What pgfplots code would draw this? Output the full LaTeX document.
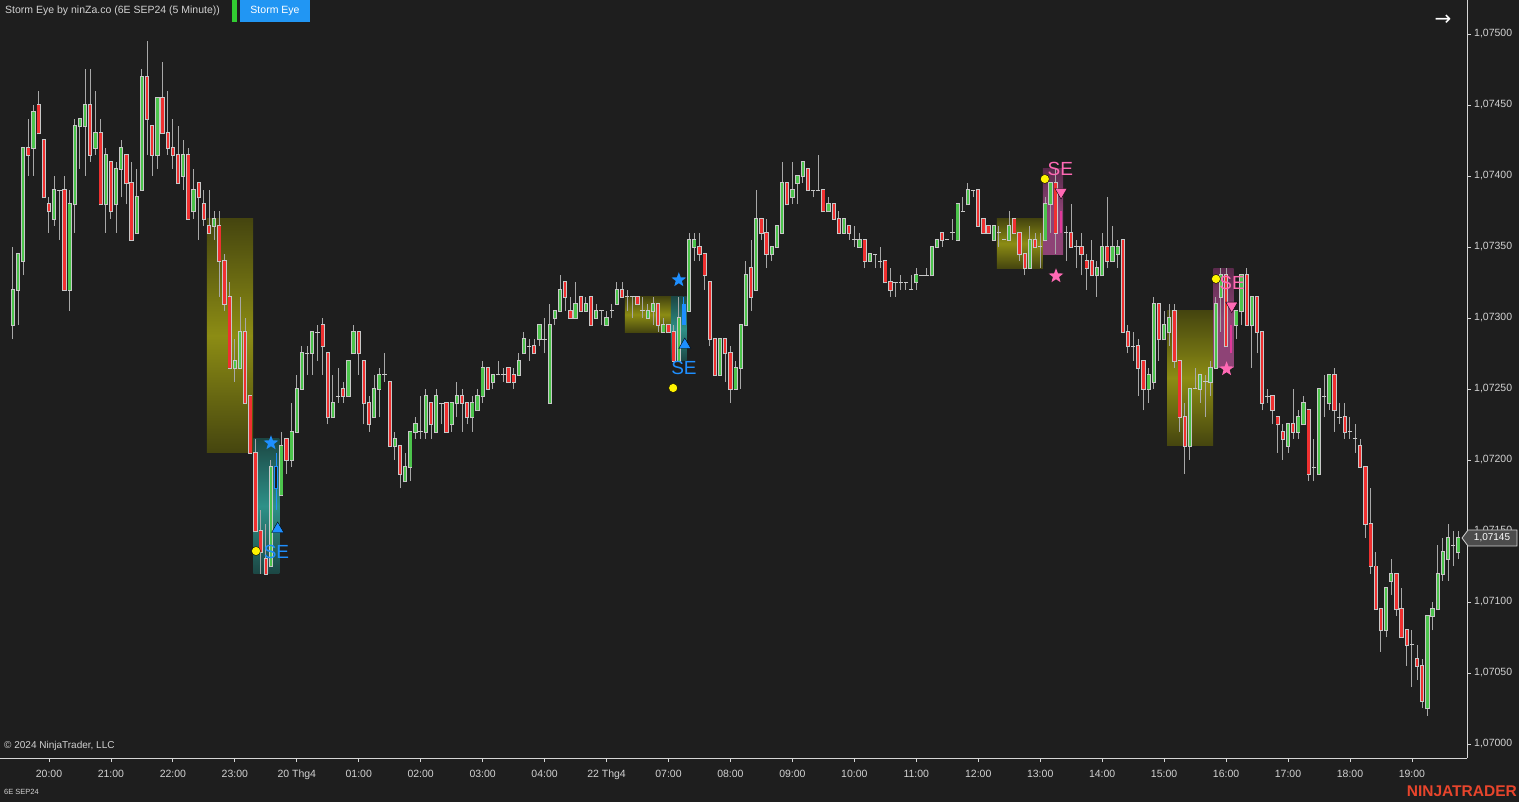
\documentclass[border=0pt]{standalone}
\usepackage{pgfplots}
\pgfplotsset{compat=1.18}
\usepackage{pgfplotstable}
\usepackage{fontspec}
\setmainfont{Liberation Sans}
\newfontfamily\dejavu{DejaVu Sans}
\definecolor{bg}{HTML}{1E1E1E}
\definecolor{txt}{HTML}{D2D2D2}
\definecolor{wick}{HTML}{A8A8A8}
\definecolor{outl}{HTML}{C8C8C8}
\definecolor{upc}{HTML}{4CC44C}
\definecolor{dnc}{HTML}{F03030}
\definecolor{olB}{HTML}{8C8C14}
\definecolor{olD}{HTML}{45450F}
\definecolor{tlB}{HTML}{2E9188}
\definecolor{tlD}{HTML}{1C4744}
\definecolor{pkB}{HTML}{8E4376}
\definecolor{pkD}{HTML}{5A2A4C}
\definecolor{sigblue}{HTML}{1E8FFF}
\definecolor{sigpink}{HTML}{FF69B4}
\definecolor{pkcandle}{HTML}{E0389A}
\definecolor{nt}{HTML}{E8452C}
\definecolor{btn}{HTML}{2196F3}
\definecolor{mkgreen}{HTML}{32CD32}

\pgfdeclareplotmark{fstar}{%
  \pgfpathmoveto{\pgfpointpolar{90}{\pgfplotmarksize}}%
  \pgfpathlineto{\pgfpointpolar{126}{0.42\pgfplotmarksize}}%
  \pgfpathlineto{\pgfpointpolar{162}{\pgfplotmarksize}}%
  \pgfpathlineto{\pgfpointpolar{198}{0.42\pgfplotmarksize}}%
  \pgfpathlineto{\pgfpointpolar{234}{\pgfplotmarksize}}%
  \pgfpathlineto{\pgfpointpolar{270}{0.42\pgfplotmarksize}}%
  \pgfpathlineto{\pgfpointpolar{306}{\pgfplotmarksize}}%
  \pgfpathlineto{\pgfpointpolar{342}{0.42\pgfplotmarksize}}%
  \pgfpathlineto{\pgfpointpolar{18}{\pgfplotmarksize}}%
  \pgfpathlineto{\pgfpointpolar{54}{0.42\pgfplotmarksize}}%
  \pgfpathclose
  \pgfusepathqfill}

% b = bar index (0 = 20:00), prices in points above 1.07000 (1 = 0.00001)
% t: 1 up, 2 down, 0 doji, 3 blue hollow, 5 blue filled, 4 pink
\pgfplotstableread{
b o h l c t
-7 295 350 285 320 1
-6 320 345 295 345 1
-5 340 420 330 420 1
-4 420 440 400 415 2
-3 420 450 400 445 1
-2 450 460 430 430 2
-1 425 425 385 385 2
0 380 385 360 375 2
1 370 400 365 390 1
2 390 390 355 390 0
3 390 400 320 320 2
4 320 390 305 380 1
5 380 440 360 435 1
6 435 440 405 440 1
7 435 475 400 450 1
8 450 475 410 415 2
9 420 460 415 430 1
10 430 440 380 380 2
11 380 420 360 415 1
12 410 410 370 375 2
13 380 410 360 405 1
14 405 425 385 420 1
15 415 415 380 395 2
16 395 410 355 355 2
17 360 405 360 385 1
18 390 475 390 470 1
19 470 495 415 440 2
20 435 435 400 415 2
21 415 455 405 455 1
22 455 480 430 430 2
23 430 460 415 420 2
24 420 440 405 415 2
25 415 435 395 395 2
26 400 425 390 415 1
27 415 420 370 370 2
28 375 405 370 390 1
29 395 395 355 385 2
30 380 390 365 370 2
31 365 390 360 360 2
32 365 375 355 370 1
33 365 375 315 340 2
34 340 345 305 310 2
35 315 325 265 265 2
36 265 285 255 270 1
37 265 315 265 290 1
38 290 300 240 240 2
39 245 245 205 205 2
40 205 215 150 150 2
41 150 165 120 135 2
42 130 155 120 120 2
43 125 200 125 195 1
44 195 205 165 180 3
45 175 220 175 210 1
46 215 215 190 200 2
47 200 240 195 220 1
48 220 260 220 250 1
49 250 280 250 275 1
50 275 280 260 275 0
51 275 290 260 290 1
52 290 295 270 290 0
53 295 300 260 280 2
54 275 275 225 230 2
55 230 260 230 240 1
56 245 265 240 245 0
57 250 255 240 245 2
58 245 270 245 270 1
59 275 295 275 290 1
60 290 290 260 275 2
61 270 270 225 240 2
62 240 245 220 225 2
63 230 260 230 250 1
64 250 265 230 260 1
65 260 275 255 260 0
66 255 255 210 210 2
67 210 220 200 215 1
68 210 210 180 190 2
69 185 205 185 195 1
70 195 220 185 220 1
71 220 230 215 225 1
72 220 245 215 220 0
73 220 250 215 245 1
74 240 240 215 225 2
75 220 250 220 245 1
76 240 240 225 240 0
77 240 240 220 220 2
78 225 240 220 240 1
79 240 255 230 245 1
80 245 250 220 240 2
81 240 240 225 230 2
82 230 245 220 240 1
83 235 250 235 245 1
84 245 270 240 265 1
85 265 265 250 250 2
86 255 260 250 260 1
87 260 270 260 260 0
88 260 265 255 260 0
89 265 265 255 255 2
90 260 265 250 255 2
91 260 275 260 270 1
92 275 290 275 285 1
93 280 285 270 280 0
94 280 285 275 275 2
95 285 295 280 295 1
96 285 300 275 285 0
97 240 310 240 295 1
98 300 305 295 305 1
99 305 330 305 320 1
100 325 325 305 315 2
101 305 315 300 300 2
102 300 325 300 310 1
103 315 315 305 305 2
104 305 315 305 310 1
105 315 315 295 295 2
106 300 310 300 305 1
107 305 305 295 305 0
108 295 305 295 300 1
109 305 310 300 305 0
110 310 325 310 320 1
111 320 325 315 315 2
112 315 320 305 315 0
113 315 315 300 315 0
114 315 315 310 310 2
115 305 315 300 305 0
116 300 310 300 305 1
117 305 315 295 310 1
118 310 310 290 295 2
119 290 300 290 295 1
120 295 295 290 290 2
121 290 295 270 270 2
122 270 315 270 300 1
123 295 315 295 310 5
124 305 360 305 355 1
125 350 360 340 355 1
126 350 360 340 345 2
127 345 345 320 330 2
128 325 325 280 285 2
129 285 285 260 260 2
130 260 285 260 285 1
131 285 285 255 275 2
132 275 280 240 250 2
133 250 270 250 265 1
134 265 295 250 295 1
135 295 340 295 330 1
136 335 355 305 315 2
137 320 390 320 370 1
138 370 370 355 360 2
139 360 370 335 345 2
140 345 350 340 350 1
141 350 365 350 365 1
142 360 410 360 395 1
143 395 395 380 380 2
144 385 410 380 390 1
145 395 400 380 400 1
146 400 410 395 410 1
147 405 405 390 390 2
148 390 390 385 390 0
149 390 415 390 390 0
150 390 390 375 375 2
151 375 385 375 380 1
152 380 380 370 370 2
153 370 375 360 360 2
154 360 370 360 370 1
155 365 365 355 360 2
156 355 365 350 355 0
157 350 360 350 355 1
158 355 355 335 340 2
159 340 345 340 345 1
160 345 345 335 345 0
161 340 350 335 340 0
162 340 340 325 325 2
163 325 335 315 320 2
164 325 325 315 325 0
165 325 330 320 325 0
166 325 325 320 325 0
167 320 330 320 320 0
168 325 335 320 330 1
169 330 330 330 330 0
170 330 335 330 330 0
171 330 350 330 350 1
172 350 355 350 355 1
173 360 360 350 355 2
174 355 355 355 355 0
175 360 370 355 360 0
176 355 380 355 380 1
177 375 385 375 375 0
178 380 395 380 390 1
179 390 390 385 390 0
180 390 390 365 365 2
181 370 370 360 360 2
182 365 365 360 360 2
183 355 365 355 365 1
184 360 365 350 360 0
185 355 355 355 355 0
186 355 375 355 365 1
187 370 370 360 360 2
188 360 360 340 345 2
189 345 345 330 335 2
190 335 365 335 355 1
191 355 360 350 350 2
192 350 360 335 350 0
193 355 385 355 380 1
194 380 395 360 395 1
195 395 405 345 360 2
196 375 375 360 360 4
197 360 365 340 360 0
198 360 380 350 350 2
199 350 355 335 350 0
200 350 360 330 345 2
201 340 345 320 335 2
202 340 355 330 330 2
203 330 340 315 335 1
204 330 360 330 350 1
205 350 385 335 340 2
206 340 365 340 350 1
207 345 355 335 350 1
208 355 355 290 290 2
209 290 295 275 280 2
210 280 290 270 280 0
211 280 285 245 265 2
212 270 270 235 250 2
213 250 265 240 260 1
214 255 315 250 310 1
215 310 310 270 285 2
216 285 305 285 295 1
217 290 310 280 300 1
218 305 310 265 270 2
219 270 270 220 230 2
220 230 240 190 210 2
221 210 250 200 250 1
222 250 265 250 250 0
223 250 260 240 260 1
224 255 260 230 255 0
225 255 270 245 265 1
226 265 315 265 310 1
227 315 335 290 330 1
228 330 335 280 280 2
229 295 295 275 275 4
230 295 305 285 305 1
231 305 330 295 330 1
232 330 335 295 295 2
233 295 315 265 315 1
234 315 315 275 290 2
235 290 290 235 240 2
236 245 250 240 245 0
237 245 245 225 235 2
238 230 230 205 225 2
239 220 225 200 215 2
240 210 225 205 225 1
241 225 250 215 220 2
242 220 235 215 230 1
243 225 245 225 240 1
244 235 235 185 190 2
245 195 215 185 195 0
246 190 250 190 250 1
247 245 260 230 245 0
248 240 260 235 260 1
249 260 265 220 235 2
250 230 240 225 230 0
251 230 240 215 220 2
252 220 230 215 220 0
253 215 225 205 215 0
254 210 215 195 195 2
255 195 195 145 155 2
256 155 180 120 125 2
257 125 135 95 95 2
258 95 95 65 80 2
259 80 110 75 110 1
260 115 130 105 120 1
261 120 120 90 95 2
262 95 110 75 75 2
263 80 80 55 70 2
264 70 80 40 70 0
265 60 70 45 55 2
266 55 60 25 30 2
267 25 90 20 90 1
268 90 100 80 95 1
269 95 140 95 120 1
270 120 145 115 135 1
271 130 155 115 145 1
272 140 150 125 140 0
273 135 150 130 145 1
}\candles

\pgfplotsset{
  nomark/.style={only marks, mark=*, mark size=0pt, mark options={draw=none, fill=none}, forget plot},
  wickbar/.style 2 args={nomark,
    restrict expr to domain={\thisrow{t}}{#1},
    error bars/.cd, y dir=plus, y explicit, error mark=none,
    error bar style={draw=#2, line width=1bp}},
  bodybar/.style n args={3}{nomark,
    restrict expr to domain={\thisrow{t}}{#1},
    error bars/.cd, y dir=plus, y explicit, error mark=none,
    error bar style={draw=#2, line width=#3}},
}

\begin{document}
\begin{tikzpicture}
\useasboundingbox (0,-44bp) rectangle (1519bp,758bp);
\fill[bg] (0,-44bp) rectangle (1519bp,758bp);
\begin{axis}[
  at={(0,0)}, anchor=south west,
  scale only axis, width=1467bp, height=758bp,
  xmin=-9.49, xmax=274.67, ymin=-9.86, ymax=523.94,
  axis x line*=bottom, axis y line*=right,
  axis line style={color=outl!75, line width=0.8bp},
  tick style={color=outl!75, line width=0.8bp},
  major tick length=4bp, tick align=outside,
  xtick={0,12,...,264},
  xticklabels={20:00,21:00,22:00,23:00,20 Thg4,01:00,02:00,03:00,04:00,22 Thg4,07:00,08:00,09:00,10:00,11:00,12:00,13:00,14:00,15:00,16:00,17:00,18:00,19:00},
  ytick={0,50,...,500},
  yticklabels={{1,07000},{1,07050},{1,07100},{1,07150},{1,07200},{1,07250},{1,07300},{1,07350},{1,07400},{1,07450},{1,07500}},
  ticklabel style={font=\fontsize{10.5bp}{12bp}\selectfont, text=txt, inner sep=0pt},
  xticklabel style={anchor=base, yshift=-15bp},
  yticklabel style={anchor=west, xshift=3bp},
]
% zones
\addplot[draw=none, forget plot, top color=olD, bottom color=olD, middle color=olB] coordinates {(30.6,205) (39.52,205) (39.52,370) (30.6,370)} -- cycle;
\addplot[draw=none, forget plot, top color=olD, bottom color=olD, middle color=olB] coordinates {(111.57,290) (120.48,290) (120.48,315) (111.57,315)} -- cycle;
\addplot[draw=none, forget plot, top color=olD, bottom color=olD, middle color=olB] coordinates {(183.63,335) (192.54,335) (192.54,370) (183.63,370)} -- cycle;
\addplot[draw=none, forget plot, top color=olD, bottom color=olD, middle color=olB] coordinates {(216.56,210) (225.47,210) (225.47,305) (216.56,305)} -- cycle;
\addplot[draw=none, forget plot, top color=tlD, bottom color=tlD, middle color=tlB] coordinates {(39.57,120) (44.61,120) (44.61,215) (39.57,215)} -- cycle;
\addplot[draw=none, forget plot, top color=tlD, bottom color=tlD, middle color=tlB] coordinates {(120.48,270) (123.52,270) (123.52,315) (120.48,315)} -- cycle;
\addplot[draw=none, forget plot, top color=pkD, bottom color=pkB, middle color=pkB] coordinates {(192.54,345) (196.42,345) (196.42,405) (192.54,405)} -- cycle;
\addplot[draw=none, forget plot, top color=pkD, bottom color=pkB, middle color=pkB] coordinates {(225.53,265) (229.48,265) (229.48,335) (225.53,335)} -- cycle;

% wicks
\addplot[wickbar={-0.5:2.5}{wick}] table[x=b, y=l, y error expr=\thisrow{h}-\thisrow{l}] {\candles};
\addplot[wickbar={2.5:3.5}{sigblue}] table[x=b, y=l, y error expr=\thisrow{h}-\thisrow{l}] {\candles};
\addplot[wickbar={4.5:5.5}{sigblue}] table[x=b, y=l, y error expr=\thisrow{h}-\thisrow{l}] {\candles};
% bodies: outline
\addplot[bodybar={0.5:2.5}{outl}{4.2bp}] table[x=b, y expr={min(\thisrow{o},\thisrow{c})-0.7}, y error expr={abs(\thisrow{c}-\thisrow{o})+1.4}] {\candles};
% bodies: fill
\addplot[bodybar={0.5:1.5}{upc}{2.4bp}] table[x=b, y=o, y error expr=\thisrow{c}-\thisrow{o}] {\candles};
\addplot[bodybar={1.5:2.5}{dnc}{2.4bp}] table[x=b, y=c, y error expr=\thisrow{o}-\thisrow{c}] {\candles};
% doji
\addplot[only marks, mark=-, mark size=2.2bp, mark options={color=outl, line width=1bp}, forget plot,
  restrict expr to domain={\thisrow{t}}{-0.5:0.5}] table[x=b, y=c] {\candles};
% blue hollow candle
\addplot[bodybar={2.5:3.5}{sigblue}{4.2bp}] table[x=b, y expr={min(\thisrow{o},\thisrow{c})-0.7}, y error expr={abs(\thisrow{c}-\thisrow{o})+1.4}] {\candles};
\addplot[bodybar={2.5:3.5}{bg}{2.2bp}] table[x=b, y expr={min(\thisrow{o},\thisrow{c})}, y error expr={abs(\thisrow{c}-\thisrow{o})}] {\candles};
% blue filled candle
\addplot[bodybar={4.5:5.5}{sigblue}{4.2bp}] table[x=b, y expr={min(\thisrow{o},\thisrow{c})}, y error expr={abs(\thisrow{c}-\thisrow{o})}] {\candles};
% pink candles
\addplot[bodybar={3.5:4.5}{pkcandle}{1.6bp}] table[x=b, y=l, y error expr=\thisrow{h}-\thisrow{l}] {\candles};

% signal marks
\addplot[only marks, mark=*, mark size=4.5bp, mark options={fill=yellow, draw=none}, forget plot]
  coordinates {(40.1,135.9) (120.9,250.7) (192.9,397.9) (226.05,327.5)};
\addplot[only marks, mark=fstar, mark size=7.7bp, mark options={fill=sigblue, draw=none}, forget plot]
  coordinates {(43.0,212) (122.0,326.8)};
\addplot[only marks, mark=triangle*, mark size=7bp, mark options={fill=sigblue, draw=none}, forget plot]
  coordinates {(44.3,151.4) (123.16,281)};
\addplot[only marks, mark=fstar, mark size=7.7bp, mark options={fill=sigpink, draw=none}, forget plot]
  coordinates {(195.06,329.6) (228.1,264.1)};
\addplot[only marks, mark=triangle*, mark size=7bp, mark options={fill=sigpink, draw=none, rotate=180}, forget plot]
  coordinates {(196.03,388.7) (229.1,308.7)};

\node[text=sigblue, font=\fontsize{19bp}{20bp}\selectfont, inner sep=0pt] at (axis cs:44.06,134.9) {SE};
\node[text=sigblue, font=\fontsize{19bp}{20bp}\selectfont, inner sep=0pt] at (axis cs:123.0,265.1) {SE};
\node[text=sigpink, font=\fontsize{19bp}{20bp}\selectfont, inner sep=0pt] at (axis cs:195.9,405.3) {SE};
\node[text=sigpink, font=\fontsize{19bp}{20bp}\selectfont, inner sep=0pt] at (axis cs:229.15,324.6) {SE};
\end{axis}

% header
\node[anchor=west, text=txt, font=\fontsize{10.5bp}{12bp}\selectfont, inner sep=0pt] at (5bp,747bp) {Storm Eye by ninZa.co (6E SEP24 (5 Minute))};
\fill[mkgreen] (232bp,736bp) rectangle (237bp,758bp);
\fill[btn] (240bp,736bp) rectangle (310bp,758bp);
\node[text=white, font=\fontsize{10.5bp}{12bp}\selectfont, inner sep=0pt] at (275bp,747bp) {Storm Eye};
\node[text=white, font=\dejavu\fontsize{20bp}{22bp}\selectfont, inner sep=0pt] at (1443bp,738bp) {→};
% footer
\node[anchor=west, text=txt, font=\fontsize{10bp}{12bp}\selectfont, inner sep=0pt] at (4bp,12bp) {© 2024 NinjaTrader, LLC};
\node[anchor=west, text=txt, font=\fontsize{7.5bp}{9bp}\selectfont, inner sep=0pt] at (4bp,-34bp) {6E SEP24};
\node[anchor=east, text=nt, font=\bfseries\fontsize{15.5bp}{17bp}\selectfont, inner sep=0pt] at (1517bp,-33bp) {NINJATRADER};
% price marker (covers part of the 1,07150 label, as in the original)
\filldraw[fill=black!70, draw=outl!80, line width=0.8bp] (1462bp,220bp) -- (1468bp,228bp) -- (1517bp,228bp) -- (1517bp,212bp) -- (1468bp,212bp) -- cycle;
\node[text=white, font=\fontsize{10bp}{12bp}\selectfont, inner sep=0pt] at (1492bp,220bp) {1,07145};
\end{tikzpicture}
\end{document}
